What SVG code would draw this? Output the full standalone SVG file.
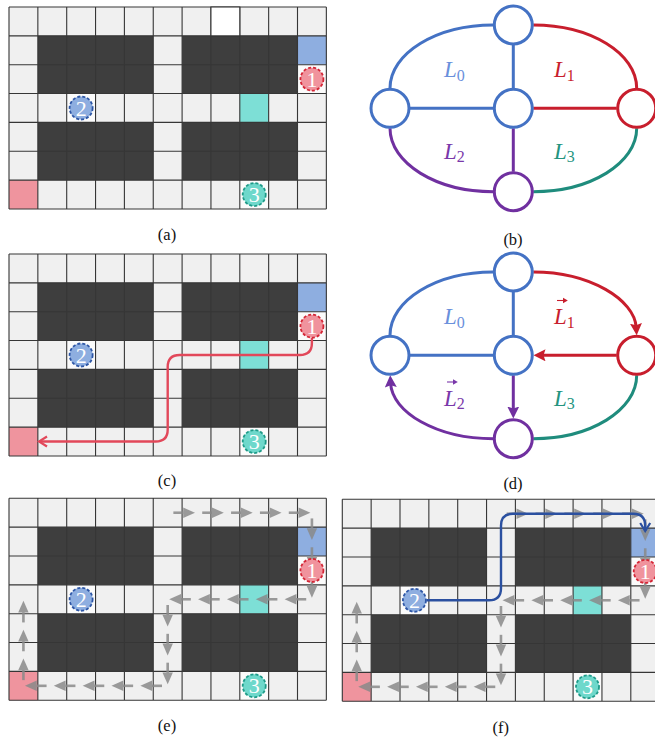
<svg xmlns="http://www.w3.org/2000/svg" xmlns:xlink="http://www.w3.org/1999/xlink" width="655" height="742" viewBox="0 0 655 742">
<style>
.lt{fill:#f0f0f0}
.dk{fill:#3e3e3e}
.gl{fill:none;stroke:#363636;stroke-width:1.1}
.tk{stroke-width:1.8;stroke-dasharray:3 2}
.num{font-family:"Liberation Serif","Times New Roman",serif;font-size:22px;fill:#fff;text-anchor:middle}
.gray{fill:#8a8a8a;stroke:#8a8a8a;stroke-width:2.6}
.nd{fill:#fff;stroke-width:3}
.e{fill:none;stroke-width:3}
.lab{font-family:"Liberation Serif","Times New Roman",serif;font-size:23px;font-style:italic}
.sub{font-size:16px;font-style:normal}
.cap{font-family:"Liberation Serif","Times New Roman",serif;font-size:16.5px;fill:#111;text-anchor:middle}
.bl{stroke:#4472c4}
.rd{stroke:#c81e2d}
.pu{stroke:#7030a0}
.te{stroke:#1f8c7d}
</style>
<defs>
<marker id="mr" viewBox="0 0 12 12" markerWidth="12" markerHeight="12" refX="4" refY="6" orient="auto" markerUnits="userSpaceOnUse"><path d="M0,0L12,6L0,12L2,6z" fill="#c81e2d"/></marker>
<marker id="mp" viewBox="0 0 12 12" markerWidth="12" markerHeight="12" refX="4" refY="6" orient="auto" markerUnits="userSpaceOnUse"><path d="M0,0L12,6L0,12L2,6z" fill="#7030a0"/></marker>
<marker id="cr" viewBox="-2 -2 12 14" markerWidth="12" markerHeight="14" refX="8" refY="5" orient="auto" markerUnits="userSpaceOnUse"><path d="M0,0L8,5L0,10" fill="none" stroke="#e2485a" stroke-width="2.2" stroke-linejoin="miter"/></marker>
<marker id="cb" viewBox="-2 -2 12 14" markerWidth="12" markerHeight="14" refX="8" refY="5" orient="auto" markerUnits="userSpaceOnUse"><path d="M0,0L8,5L0,10" fill="none" stroke="#2b50a0" stroke-width="2.2" stroke-linejoin="miter"/></marker>
<g id="maze">
<rect class="lt" x="0" y="0" width="317.35" height="201.95"/>
<rect class="dk" x="28.85" y="28.85" width="115.4" height="57.7"/>
<rect class="dk" x="173.1" y="28.85" width="115.4" height="57.7"/>
<rect class="dk" x="28.85" y="115.4" width="115.4" height="57.7"/>
<rect class="dk" x="173.1" y="115.4" width="115.4" height="57.7"/>
<rect fill="#8eaee0" x="288.5" y="28.85" width="28.85" height="28.85"/>
<rect fill="#7ddfd6" x="230.8" y="86.55" width="28.85" height="28.85"/>
<rect fill="#ef949e" x="0" y="173.1" width="28.85" height="28.85"/>
<rect fill="#fbfbfb" x="288.5" y="57.7" width="28.85" height="28.85"/>
<rect fill="#fbfbfb" x="57.7" y="86.55" width="28.85" height="28.85"/>
<rect fill="#fbfbfb" x="230.8" y="173.1" width="28.85" height="28.85"/>
<path class="gl" d="M0,0V201.95M28.85,0V201.95M57.7,0V201.95M86.55,0V201.95M115.4,0V201.95M144.25,0V201.95M173.1,0V201.95M201.95,0V201.95M230.8,0V201.95M259.65,0V201.95M288.5,0V201.95M317.35,0V201.95M0,0H317.35M0,28.85H317.35M0,57.7H317.35M0,86.55H317.35M0,115.4H317.35M0,144.25H317.35M0,173.1H317.35M0,201.95H317.35"/>
</g>
<g id="tokens">
<circle class="tk" cx="302.925" cy="72.125" r="11.5" fill="#f0939d" stroke="#d42535"/>
<text class="num" x="302.925" y="79.6">1</text>
<circle class="tk" cx="72.125" cy="100.975" r="11.5" fill="#8eaee0" stroke="#2d56a6"/>
<text class="num" x="72.125" y="108.5">2</text>
<circle class="tk" cx="245.225" cy="187.525" r="11.5" fill="#6ed8cb" stroke="#1e9a88"/>
<text class="num" x="245.225" y="195">3</text>
</g>
<g id="ga"><path d="M5.7,0H16"/><path d="M15.5,-5.2L27.3,0L15.5,5.2z" stroke="none"/></g>
<g id="route" class="gray" opacity="0.85">
<use xlink:href="#ga" transform="translate(158.675,14.425)"/>
<use xlink:href="#ga" transform="translate(187.525,14.425)"/>
<use xlink:href="#ga" transform="translate(216.375,14.425)"/>
<use xlink:href="#ga" transform="translate(245.225,14.425)"/>
<use xlink:href="#ga" transform="translate(274.075,14.425)"/>
<use xlink:href="#ga" transform="translate(302.925,14.425) rotate(90)"/>
<use xlink:href="#ga" transform="translate(302.925,43.275) rotate(90)"/>
<use xlink:href="#ga" transform="translate(302.925,72.125) rotate(90)"/>
<use xlink:href="#ga" transform="translate(302.925,100.975) rotate(180)"/>
<use xlink:href="#ga" transform="translate(274.075,100.975) rotate(180)"/>
<use xlink:href="#ga" transform="translate(245.225,100.975) rotate(180)"/>
<use xlink:href="#ga" transform="translate(216.375,100.975) rotate(180)"/>
<use xlink:href="#ga" transform="translate(187.525,100.975) rotate(180)"/>
<use xlink:href="#ga" transform="translate(158.675,100.975) rotate(90)"/>
<use xlink:href="#ga" transform="translate(158.675,129.825) rotate(90)"/>
<use xlink:href="#ga" transform="translate(158.675,158.675) rotate(90)"/>
<use xlink:href="#ga" transform="translate(158.675,187.525) rotate(180)"/>
<use xlink:href="#ga" transform="translate(129.825,187.525) rotate(180)"/>
<use xlink:href="#ga" transform="translate(100.975,187.525) rotate(180)"/>
<use xlink:href="#ga" transform="translate(72.125,187.525) rotate(180)"/>
<use xlink:href="#ga" transform="translate(43.275,187.525) rotate(180)"/>
<use xlink:href="#ga" transform="translate(14.425,187.525) rotate(-90)"/>
<use xlink:href="#ga" transform="translate(14.425,158.675) rotate(-90)"/>
<use xlink:href="#ga" transform="translate(14.425,129.825) rotate(-90)"/>
</g>
</defs>

<g id="panel-a">
<use xlink:href="#maze" transform="translate(9,7)"/>
<rect x="210.95" y="7" width="28.85" height="28.85" fill="#ffffff" stroke="#363636" stroke-width="1.1"/>
<use xlink:href="#tokens" transform="translate(9,7)"/>
<text class="cap" x="167" y="239.5">(a)</text>
</g>

<g id="panel-b">
<g id="b-edges">
<path class="e bl" d="M493.3,25C436.2,25 390,53.3 390,88.3"/>
<path class="e rd" d="M533.3,25C590.4,25 636.7,53.3 636.7,88.3"/>
<path class="e pu" d="M390,128.3C390,163.3 436.2,191.7 493.3,191.7"/>
<path class="e te" d="M636.7,128.3C636.7,163.3 590.4,191.7 533.3,191.7"/>
<path class="e bl" d="M513.3,45V88.3M410,108.3H493.3"/>
<path class="e rd" d="M533.3,108.3H616.7"/>
<path class="e pu" d="M513.3,128.3V171.7"/>
</g>
<g id="b-top"><circle class="nd bl" cx="513.3" cy="25" r="19"/></g>
<g id="b-center"><circle class="nd bl" cx="513.3" cy="108.3" r="19"/></g>
<g id="b-left"><circle class="nd bl" cx="390" cy="108.3" r="19"/></g>
<g id="b-right"><circle class="nd rd" cx="636.7" cy="108.3" r="19"/></g>
<g id="b-bottom"><circle class="nd pu" cx="513.3" cy="191.7" r="19"/></g>
<text class="lab" x="444" y="77" fill="#6a90dc">L<tspan class="sub" dy="3.5">0</tspan></text>
<text class="lab" x="554" y="77" fill="#c81e2d">L<tspan class="sub" dy="3.5">1</tspan></text>
<text class="lab" x="444" y="158.5" fill="#7a38aa">L<tspan class="sub" dy="3.5">2</tspan></text>
<text class="lab" x="554" y="158.5" fill="#24947f">L<tspan class="sub" dy="3.5">3</tspan></text>
<text class="cap" x="513" y="245">(b)</text>
</g>

<g id="panel-c">
<use xlink:href="#maze" transform="translate(9,254)"/>
<g id="c-path"><path d="M311.9,338V343Q311.9,355 299.9,355H179.7Q167.7,355 167.7,367V429.5Q167.7,441.5 155.7,441.5H39" fill="none" stroke="#e2485a" stroke-width="2.4" marker-end="url(#cr)"/></g>
<use xlink:href="#tokens" transform="translate(9,254)"/>
<text class="cap" x="167" y="486">(c)</text>
</g>

<g id="panel-d">
<g id="d-edges">
<path class="e bl" d="M493.3,272C436.2,272 390,300.3 390,335.3"/>
<path class="e rd" d="M533.3,272C590.4,272 634.5,300 636.2,327.3" marker-end="url(#mr)"/>
<path class="e te" d="M636.7,375.3C636.7,410.3 590.4,438.7 533.3,438.7"/>
<path class="e pu" d="M493.3,438.7C436.2,438.7 392,412 390.6,383.3" marker-end="url(#mp)"/>
<path class="e bl" d="M513.3,292V335.3M410,355.3H493.3"/>
<path class="e rd" d="M616.7,355.3H541.5" marker-end="url(#mr)"/>
<path class="e pu" d="M513.3,375.3V410.5" marker-end="url(#mp)"/>
</g>
<g id="d-top"><circle class="nd bl" cx="513.3" cy="272" r="19"/></g>
<g id="d-center"><circle class="nd bl" cx="513.3" cy="355.3" r="19"/></g>
<g id="d-left"><circle class="nd bl" cx="390" cy="355.3" r="19"/></g>
<g id="d-right"><circle class="nd rd" cx="636.7" cy="355.3" r="19"/></g>
<g id="d-bottom"><circle class="nd pu" cx="513.3" cy="438.7" r="19"/></g>
<text class="lab" x="444" y="324" fill="#6a90dc">L<tspan class="sub" dy="3.5">0</tspan></text>
<path d="M557,300.5H564.5" stroke="#c81e2d" stroke-width="1.1"/>
<path d="M563,297.8L567.8,300.5L563,303.2z" fill="#c81e2d"/>
<text class="lab" x="554" y="324" fill="#c81e2d">L<tspan class="sub" dy="3.5">1</tspan></text>
<path d="M447,382H454.5" stroke="#7a38aa" stroke-width="1.1"/>
<path d="M453,379.3L457.8,382L453,384.7z" fill="#7a38aa"/>
<text class="lab" x="444" y="405.5" fill="#7a38aa">L<tspan class="sub" dy="3.5">2</tspan></text>
<text class="lab" x="554" y="405.5" fill="#24947f">L<tspan class="sub" dy="3.5">3</tspan></text>
<text class="cap" x="513" y="489">(d)</text>
</g>

<g id="panel-e">
<use xlink:href="#maze" transform="translate(9,498.3)"/>
<use xlink:href="#route" transform="translate(9,498.3)"/>
<use xlink:href="#tokens" transform="translate(9,498.3)"/>
<text class="cap" x="167" y="731">(e)</text>
</g>

<g id="panel-f">
<use xlink:href="#maze" transform="translate(342.3,499.3)"/>
<use xlink:href="#route" transform="translate(342.3,499.3)"/>
<g id="f-path"><path d="M426.4,600.3H489Q501,600.3 501,588.3V525.7Q501,513.7 513,513.7H633.2Q645.2,513.7 645.2,525.7V531" fill="none" stroke="#2b50a0" stroke-width="2.4" marker-end="url(#cb)"/></g>
<use xlink:href="#tokens" transform="translate(342.3,499.3)"/>
<text class="cap" x="500.7" y="732.5">(f)</text>
</g>
</svg>
